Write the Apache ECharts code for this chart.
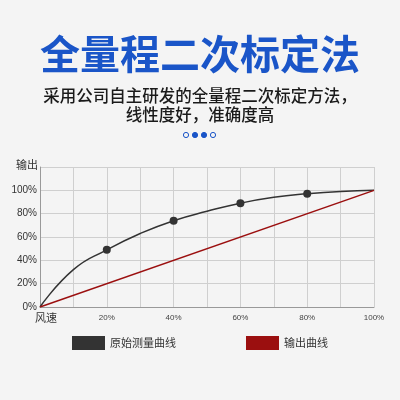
<!DOCTYPE html>
<html>
<head>
<meta charset="utf-8">
<script src="https://cdn.jsdelivr.net/npm/echarts@6/dist/echarts.min.js"></script>
<style>html,body{margin:0;padding:0;background:#f4f4f4}</style>
</head>
<body>
<div id="main" style="width:400px;height:400px;"></div>
<script type="text/javascript">
    var title = '全量程二次标定法';
    var subtitle = ['采用公司自主研发的全量程二次标定方法，', '线性度好，准确度高'];
    var seriesNames = ['原始测量曲线', '输出曲线'];
    // x in %, y in %
    var rawX = [0, 10, 20, 30, 40, 50, 60, 70, 80, 90, 100];
    var rawY = [0, 32, 49, 63, 74, 82, 89, 94, 97, 99, 100];
    var markedX = [20, 40, 60, 80];
    var outX = [0, 100];
    var outY = [0, 100];

    var font = '"Noto Sans CJK SC", sans-serif';
    var myChart = echarts.init(document.getElementById('main'));

    var rawData = rawX.map(function (x, i) {
        var marked = markedX.indexOf(x) >= 0;
        return { value: [x, rawY[i]], symbolSize: marked ? 8 : 0 };
    });

    var dots = [];
    [186, 195, 204, 213].forEach(function (cx, i) {
        var filled = i === 1 || i === 2;
        dots.push({
            type: 'circle', shape: { cx: cx, cy: 135, r: 2.6 },
            style: { fill: filled ? '#1a55c8' : 'none', stroke: '#1a55c8', lineWidth: 1 }
        });
    });

    var option = {
        backgroundColor: '#f4f4f4',
        animation: false,
        graphic: [
            { type: 'text', left: 'center', top: 34, style: { text: title, fontSize: 40, fontWeight: 'bold', fill: '#1a55c8', fontFamily: font } },
            { type: 'text', left: 'center', top: 87, style: { text: subtitle[0], fontSize: 16.5, fontWeight: 500, fill: '#1a1a1a', fontFamily: font } },
            { type: 'text', left: 'center', top: 106, style: { text: subtitle[1], fontSize: 16.5, fontWeight: 500, fill: '#1a1a1a', fontFamily: font } },
            { type: 'text', left: 16, top: 159, style: { text: '输出', fontSize: 11, fill: '#333', fontFamily: font } },
            { type: 'text', left: 35, top: 312, style: { text: '风速', fontSize: 11, fill: '#333', fontFamily: font } }
        ].concat(dots),
        legend: {
            bottom: 45, left: 'center', itemGap: 70, itemWidth: 33, itemHeight: 14,
            icon: 'rect',
            textStyle: { fontSize: 11, color: '#333', fontFamily: font },
            data: seriesNames
        },
        grid: { left: 40, right: 26, top: 167, bottom: 93 },
        xAxis: {
            type: 'value', min: 0, max: 100, interval: 10,
            axisLine: { lineStyle: { color: '#999' } },
            axisTick: { show: false },
            splitLine: { lineStyle: { color: '#cfcfcf' } },
            axisLabel: {
                fontSize: 8, color: '#444', margin: 7,
                formatter: function (v) { return v > 0 && v % 20 === 0 ? v + '%' : ''; }
            }
        },
        yAxis: {
            type: 'value', min: 0, max: 120, interval: 20,
            axisLine: { show: true, lineStyle: { color: '#999' } },
            axisTick: { show: false },
            splitLine: { lineStyle: { color: '#cfcfcf' } },
            axisLabel: {
                fontSize: 10, color: '#333', margin: 3,
                formatter: function (v) { return v <= 100 ? v + '%' : ''; }
            }
        },
        series: [{
            name: seriesNames[0], type: 'line', smooth: 0.5,
            data: rawData, symbol: 'circle',
            itemStyle: { color: '#333' },
            lineStyle: { color: '#333', width: 1.5 }
        }, {
            name: seriesNames[1], type: 'line', symbol: 'none',
            data: outX.map(function (x, i) { return [x, outY[i]]; }),
            itemStyle: { color: '#9b0f0f' },
            lineStyle: { color: '#9b0f0f', width: 1.5 }
        }]
    };
    myChart.setOption(option);
</script>
</body>
</html>
